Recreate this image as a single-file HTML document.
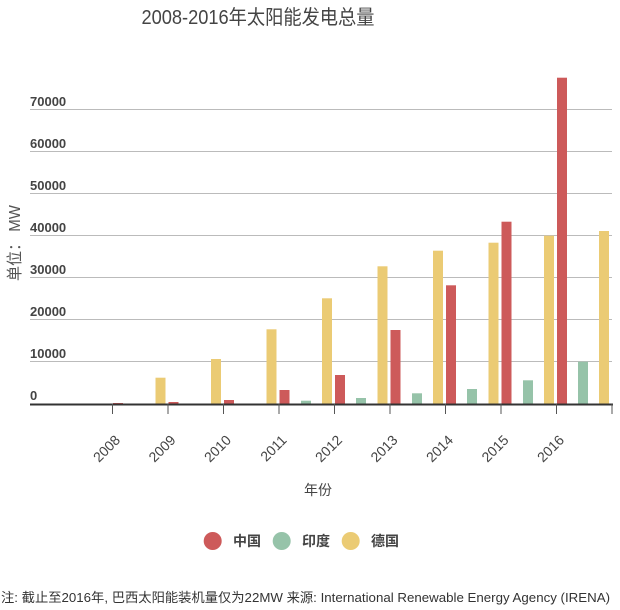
<!DOCTYPE html>
<html><head><meta charset="utf-8"><style>
html,body{margin:0;padding:0;background:#fff;}
svg{display:block;font-family:"Liberation Sans","Noto Sans CJK SC",sans-serif;}
</style></head><body>
<svg width="620" height="610" viewBox="0 0 620 610" xmlns="http://www.w3.org/2000/svg">
<text x="258" y="24" text-anchor="middle" font-size="20" fill="#444" textLength="233" lengthAdjust="spacingAndGlyphs">2008-2016年太阳能发电总量</text>
<g stroke="#bbb" stroke-width="1">
<line x1="30" x2="612" y1="109.5" y2="109.5"/>
<line x1="30" x2="612" y1="151.5" y2="151.5"/>
<line x1="30" x2="612" y1="193.5" y2="193.5"/>
<line x1="30" x2="612" y1="235.5" y2="235.5"/>
<line x1="30" x2="612" y1="277.5" y2="277.5"/>
<line x1="30" x2="612" y1="319.5" y2="319.5"/>
<line x1="30" x2="612" y1="361.5" y2="361.5"/>
</g>
<g font-size="13" font-weight="bold" fill="#444">
<text x="30" y="106">70000</text>
<text x="30" y="148">60000</text>
<text x="30" y="190">50000</text>
<text x="30" y="232">40000</text>
<text x="30" y="274">30000</text>
<text x="30" y="316">20000</text>
<text x="30" y="358">10000</text>
<text x="30" y="400">0</text>
</g>
<text transform="translate(20,243) rotate(-90)" text-anchor="middle" font-size="16" fill="#555" textLength="76" lengthAdjust="spacingAndGlyphs">单位：  MW</text>
<g fill="#cd5a5a">
<rect x="113" y="403" width="10" height="1"/>
<rect x="168.5" y="402" width="10" height="2"/>
<rect x="224" y="400" width="10" height="4"/>
<rect x="279.5" y="390" width="10" height="14"/>
<rect x="335" y="375" width="10" height="29"/>
<rect x="390.5" y="330" width="10" height="74"/>
<rect x="446" y="285.3" width="10" height="118.7"/>
<rect x="501.5" y="221.7" width="10" height="182.3"/>
<rect x="557" y="77.7" width="10" height="326.3"/>
</g>
<g fill="#96c3a9">
<rect x="245" y="403.5" width="10" height="0.5"/>
<rect x="301" y="400.7" width="10" height="3.3"/>
<rect x="356" y="398" width="10" height="6"/>
<rect x="412" y="393.3" width="10" height="10.7"/>
<rect x="467" y="389" width="10" height="15"/>
<rect x="523" y="380.3" width="10" height="23.7"/>
<rect x="578" y="361.7" width="10" height="42.3"/>
</g>
<g fill="#ebcb74">
<rect x="155.5" y="377.7" width="10" height="26.3"/>
<rect x="211" y="359" width="10" height="45"/>
<rect x="266.5" y="329.3" width="10" height="74.7"/>
<rect x="322" y="298.3" width="10" height="105.7"/>
<rect x="377.5" y="266.3" width="10" height="137.7"/>
<rect x="433" y="250.7" width="10" height="153.3"/>
<rect x="488.5" y="242.7" width="10" height="161.3"/>
<rect x="544" y="235.7" width="10" height="168.3"/>
<rect x="599" y="231" width="10" height="173"/>
</g>
<line x1="30" x2="613" y1="404.5" y2="404.5" stroke="#333" stroke-width="2"/>
<g stroke="#555" stroke-width="1">
<line x1="112.5" x2="112.5" y1="404" y2="414"/>
<line x1="168" x2="168" y1="404" y2="414"/>
<line x1="223.5" x2="223.5" y1="404" y2="414"/>
<line x1="279" x2="279" y1="404" y2="414"/>
<line x1="334.5" x2="334.5" y1="404" y2="414"/>
<line x1="390" x2="390" y1="404" y2="414"/>
<line x1="445.5" x2="445.5" y1="404" y2="414"/>
<line x1="501" x2="501" y1="404" y2="414"/>
<line x1="556.5" x2="556.5" y1="404" y2="414"/>
<line x1="612" x2="612" y1="404" y2="414"/>
</g>
<g font-size="14" fill="#444" text-anchor="end">
<text transform="translate(121,441) rotate(-45)">2008</text>
<text transform="translate(176.5,441) rotate(-45)">2009</text>
<text transform="translate(232,441) rotate(-45)">2010</text>
<text transform="translate(287.5,441) rotate(-45)">2011</text>
<text transform="translate(343,441) rotate(-45)">2012</text>
<text transform="translate(398.5,441) rotate(-45)">2013</text>
<text transform="translate(454,441) rotate(-45)">2014</text>
<text transform="translate(509.5,441) rotate(-45)">2015</text>
<text transform="translate(565,441) rotate(-45)">2016</text>
</g>
<text x="318" y="495" text-anchor="middle" font-size="14" fill="#444">年份</text>
<circle cx="212.7" cy="541" r="9" fill="#cd5a5a"/>
<text x="233" y="546" font-size="14" font-weight="bold" fill="#444">中国</text>
<circle cx="281.7" cy="541" r="9" fill="#96c3a9"/>
<text x="302" y="546" font-size="14" font-weight="bold" fill="#444">印度</text>
<circle cx="350.7" cy="541" r="9" fill="#ebcb74"/>
<text x="371" y="546" font-size="14" font-weight="bold" fill="#444">德国</text>
<text x="1" y="602" font-size="13" fill="#333" textLength="609" lengthAdjust="spacingAndGlyphs">注: 截止至2016年, 巴西太阳能装机量仅为22MW   来源: International Renewable Energy Agency (IRENA)</text>
</svg>
</body></html>
